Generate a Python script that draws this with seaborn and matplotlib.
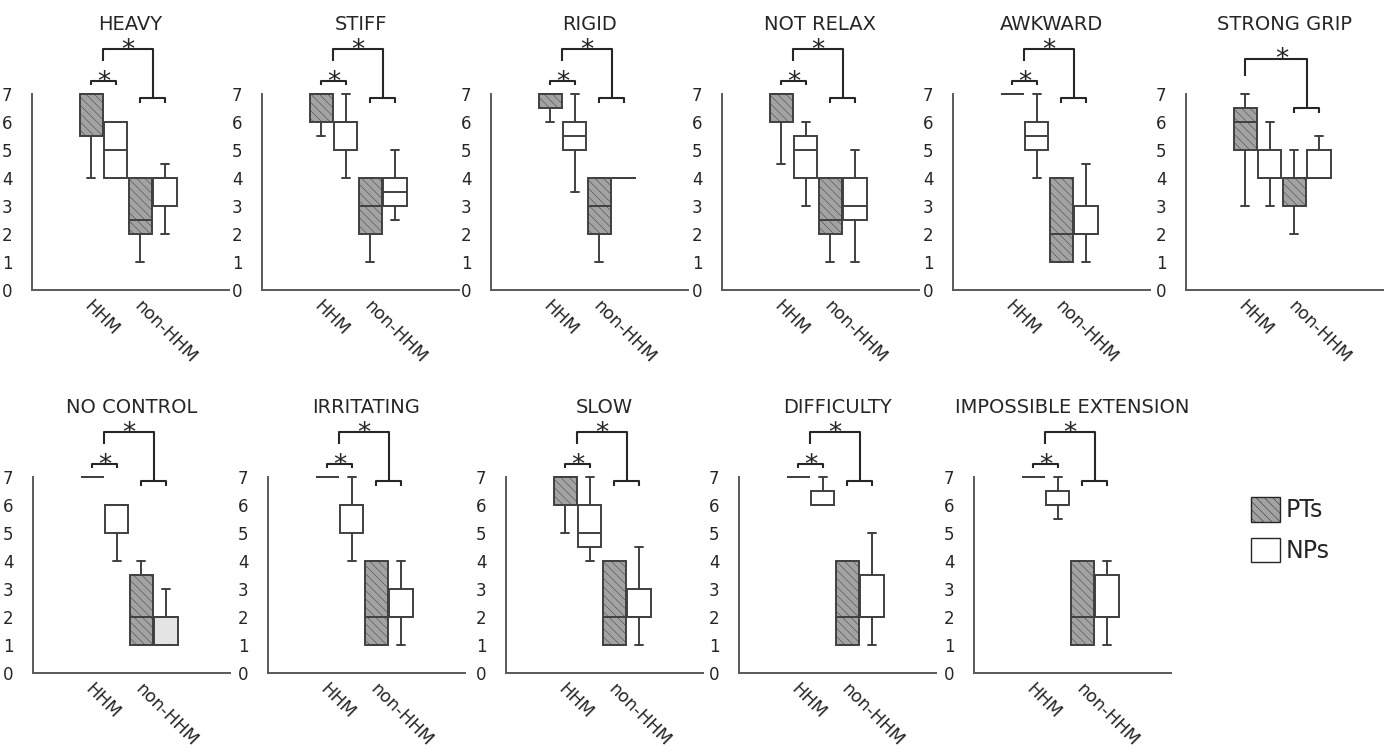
import matplotlib
matplotlib.use('Agg')
import matplotlib.pyplot as plt
from matplotlib.patches import Patch
import seaborn as sns

# Panel titles and group labels
panels = ['HEAVY', 'STIFF', 'RIGID', 'NOT RELAX', 'AWKWARD', 'STRONG GRIP',
          'NO CONTROL', 'IRRITATING', 'SLOW', 'DIFFICULTY', 'IMPOSSIBLE EXTENSION']
groups = ['HHM', 'non-HHM']
yticks = [0, 1, 2, 3, 4, 5, 6, 7]

# five-number summaries: [whisker low, q1, median, q3, whisker high]
hhm_pts = [[4, 5.5, 7, 7, 7], [5.5, 6, 7, 7, 7], [6, 6.5, 7, 7, 7], [4.5, 6, 7, 7, 7],
           [7, 7, 7, 7, 7], [3, 5, 6, 6.5, 7], [7, 7, 7, 7, 7], [7, 7, 7, 7, 7],
           [5, 6, 7, 7, 7], [7, 7, 7, 7, 7], [7, 7, 7, 7, 7]]
hhm_nps = [[4, 4, 5, 6, 6], [4, 5, 6, 6, 7], [3.5, 5, 5.5, 6, 7], [3, 4, 5, 5.5, 6],
           [4, 5, 5.5, 6, 7], [3, 4, 4, 5, 6], [4, 5, 6, 6, 6], [4, 5, 6, 6, 7],
           [4, 4.5, 5, 6, 7], [6, 6, 6, 6.5, 7], [5.5, 6, 6, 6.5, 7]]
non_pts = [[1, 2, 2.5, 4, 4], [1, 2, 3, 4, 4], [1, 2, 3, 4, 4], [1, 2, 2.5, 4, 4],
           [1, 1, 2, 4, 4], [2, 3, 4, 4, 5], [1, 1, 2, 3.5, 4], [1, 1, 2, 4, 4],
           [1, 1, 2, 4, 4], [1, 1, 2, 4, 4], [1, 1, 2, 4, 4]]
non_nps = [[2, 3, 4, 4, 4.5], [2.5, 3, 3.5, 4, 5], [4, 4, 4, 4, 4], [1, 2.5, 3, 4, 5],
           [1, 2, 2, 3, 4.5], [4, 4, 4, 5, 5.5], [1, 1, 2, 2, 3], [1, 2, 2, 3, 4],
           [1, 2, 2, 3, 4.5], [1, 2, 2, 3.5, 5], [1, 2, 2, 3.5, 4]]
# HHM PTs vs NPs significant (small bracket)
pt_vs_np_sig = [True, True, True, True, True, False, True, True, True, True, True]

sns.set_style('white')
plt.rcParams['font.family'] = ['DejaVu Sans']
plt.rcParams['hatch.linewidth'] = 0.35

W, H = 1390, 755
fig = plt.figure(figsize=(W / 100, H / 100), dpi=100)

row_lefts = [[32, 262, 491, 722, 953, 1186], [33, 268, 506, 739, 974]]
row_zero = [290, 673]
ax_w, ax_h = 197, 196

EDGE = '#404040'
LINE = '#262626'
PT_FILL = '#a3a3a3'
HATCH = '\\\\\\\\'


def five(s):
    return dict(whislo=s[0], q1=s[1], med=s[2], q3=s[3], whishi=s[4], fliers=[])


def star(ax, x, y):
    ax.text(x, y, '*', ha='center', va='baseline', fontsize=19, color=LINE, clip_on=False)


axes = []
for r, lefts in enumerate(row_lefts):
    for left in lefts:
        axes.append(fig.add_axes([left / W, (H - row_zero[r]) / H, ax_w / W, ax_h / H]))

pos = [-0.25, 0.25, 0.75, 1.25]
for i, ax in enumerate(axes):
    stats = [five(hhm_pts[i]), five(hhm_nps[i]), five(non_pts[i]), five(non_nps[i])]
    bp = ax.bxp(stats, positions=pos, widths=0.47, capwidths=0.16, patch_artist=True,
                showfliers=False,
                boxprops=dict(edgecolor=EDGE, linewidth=1.4),
                whiskerprops=dict(color=EDGE, linewidth=1.4),
                capprops=dict(color=EDGE, linewidth=1.4),
                medianprops=dict(color=EDGE, linewidth=1.4))
    for j, box in enumerate(bp['boxes']):
        if j % 2 == 0:
            box.set_facecolor(PT_FILL)
            box.set_hatch(HATCH)
        else:
            box.set_facecolor('white')
    if panels[i] == 'NO CONTROL':
        bp['boxes'][3].set_facecolor('#e4e4e4')
    for key in bp:
        for art in bp[key]:
            art.set_clip_on(False)

    ax.set_xlim(-1.45, 2.55)
    ax.set_ylim(0, 7)
    ax.set_yticks(yticks)
    # rotated labels start a little left of each group centre
    ax.set_xticks([-0.2, 0.8])
    ax.set_xticklabels(groups, rotation=-45, ha='left', va='top', rotation_mode='anchor')
    ax.tick_params(axis='x', length=0, pad=5, labelsize=12.5, labelcolor=LINE)
    ax.tick_params(axis='y', length=0, pad=14, labelsize=12, labelcolor=LINE)
    sns.despine(ax=ax)
    for s in ['left', 'bottom']:
        ax.spines[s].set_color('#595959')
        ax.spines[s].set_linewidth(1.4)
    ax.set_title(panels[i], fontsize=14, pad=46, color=LINE)

    kw = dict(color=LINE, lw=1.5, clip_on=False, solid_capstyle='butt')
    if pt_vs_np_sig[i]:
        ys = 7.45
        ax.plot([-0.25, -0.25, 0.25, 0.25], [ys - 0.12, ys, ys, ys - 0.12], **kw)
        star(ax, 0, ys - 0.3)
        top, left_x, leg_end, right_end = 8.6, 0.0, 8.18, 6.85
    else:
        top, left_x, leg_end, right_end = 8.25, -0.25, 7.65, 6.5
    ax.plot([left_x, left_x, 1, 1], [leg_end, top, top, right_end], **kw)
    ax.plot([0.75, 0.75, 1.25, 1.25], [right_end - 0.17, right_end, right_end, right_end - 0.17], **kw)
    star(ax, 0.5, top - 0.3)

fig.legend(handles=[Patch(facecolor=PT_FILL, edgecolor=LINE, hatch=HATCH, label='PTs'),
                    Patch(facecolor='white', edgecolor=LINE, label='NPs')],
           loc='upper left', bbox_to_anchor=(1251 / W, 1 - 497 / H), frameon=False,
           fontsize=17, handlelength=1.23, handleheight=1.23, handletextpad=0.25,
           labelspacing=0.65, borderpad=0, borderaxespad=0)

fig.savefig('out.png', dpi=100)
